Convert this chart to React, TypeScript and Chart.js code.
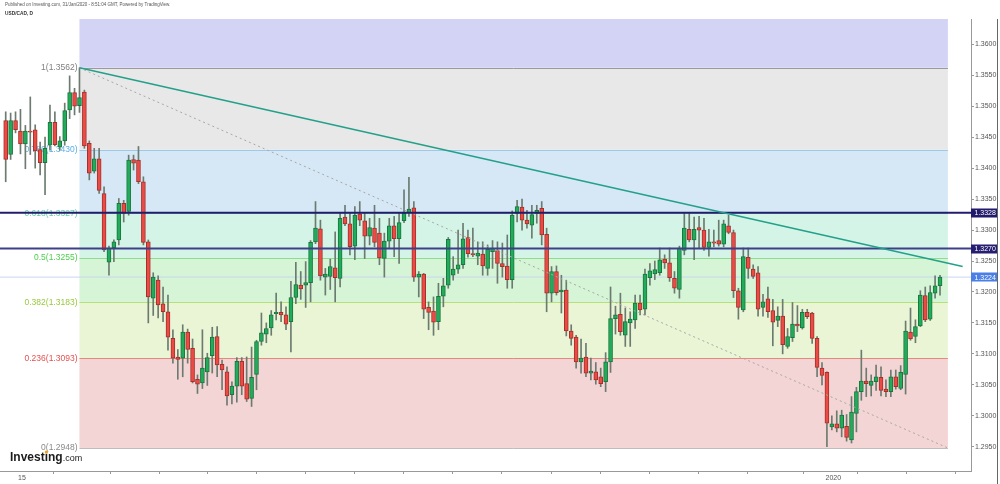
import React, { useEffect, useRef } from 'react';
import { Chart, registerables } from 'chart.js';
Chart.register(...registerables);

// ---- data (USD/CAD daily candles) ----
const opens = [1.3477,1.3422,1.3477,1.3460,1.3439,1.3460,1.3462,1.3430,1.3409,1.3437,1.3474,1.3434,1.3444,1.3494,1.3522,1.3501,1.3523,1.3440,1.3395,1.3415,1.3359,1.3248,1.3271,1.3284,1.3343,1.3330,1.3414,1.3413,1.3378,1.3281,1.3190,1.3219,1.3181,1.3168,1.3125,1.3095,1.3093,1.3135,1.3109,1.3059,1.3053,1.3071,1.3097,1.3128,1.3083,1.3071,1.3034,1.3048,1.3088,1.3052,1.3028,1.3067,1.3120,1.3132,1.3142,1.3165,1.3167,1.3163,1.3152,1.3191,1.3211,1.3211,1.3215,1.3281,1.3302,1.3224,1.3225,1.3239,1.3222,1.3321,1.3310,1.3274,1.3326,1.3315,1.3290,1.3303,1.3295,1.3254,1.3282,1.3307,1.3286,1.3315,1.3328,1.3336,1.3224,1.3229,1.3175,1.3169,1.3152,1.3193,1.3211,1.3227,1.3237,1.3244,1.3288,1.3262,1.3258,1.3261,1.3238,1.3265,1.3267,1.3246,1.3242,1.3220,1.3327,1.3337,1.3316,1.3308,1.3327,1.3335,1.3293,1.3198,1.3233,1.3200,1.3203,1.3137,1.3127,1.3087,1.3095,1.3069,1.3071,1.3063,1.3055,1.3087,1.3157,1.3164,1.3130,1.3150,1.3155,1.3182,1.3172,1.3223,1.3229,1.3231,1.3253,1.3247,1.3222,1.3204,1.3267,1.3301,1.3284,1.3304,1.3300,1.3272,1.3281,1.3283,1.3277,1.3307,1.3296,1.3202,1.3171,1.3256,1.3237,1.3231,1.3175,1.3189,1.3170,1.3154,1.3161,1.3112,1.3126,1.3148,1.3142,1.3167,1.3166,1.3125,1.3077,1.3070,1.2982,1.2987,1.2980,1.2983,1.2961,1.3004,1.3039,1.3056,1.3049,1.3055,1.3062,1.3043,1.3039,1.3063,1.3044,1.3067,1.3135,1.3128,1.3145,1.3194,1.3156,1.3198,1.3210];
const highs = [1.3491,1.3489,1.3491,1.3495,1.3469,1.3515,1.3470,1.3442,1.3450,1.3502,1.3491,1.3451,1.3505,1.3549,1.3529,1.3562,1.3526,1.3444,1.3432,1.3432,1.3370,1.3274,1.3284,1.3351,1.3348,1.3421,1.3421,1.3435,1.3386,1.3284,1.3231,1.3226,1.3208,1.3195,1.3139,1.3107,1.3147,1.3140,1.3124,1.3066,1.3139,1.3101,1.3143,1.3144,1.3090,1.3079,1.3055,1.3094,1.3094,1.3095,1.3111,1.3122,1.3166,1.3150,1.3170,1.3198,1.3184,1.3176,1.3217,1.3248,1.3233,1.3249,1.3283,1.3346,1.3316,1.3238,1.3253,1.3297,1.3327,1.3340,1.3327,1.3338,1.3346,1.3328,1.3319,1.3340,1.3319,1.3295,1.3319,1.3322,1.3327,1.3365,1.3385,1.3346,1.3233,1.3230,1.3184,1.3192,1.3214,1.3222,1.3288,1.3257,1.3300,1.3311,1.3300,1.3303,1.3281,1.3281,1.3276,1.3283,1.3281,1.3279,1.3292,1.3331,1.3348,1.3350,1.3332,1.3340,1.3340,1.3346,1.3303,1.3241,1.3242,1.3227,1.3219,1.3147,1.3130,1.3124,1.3117,1.3093,1.3086,1.3077,1.3102,1.3208,1.3177,1.3198,1.3174,1.3168,1.3195,1.3195,1.3237,1.3246,1.3250,1.3271,1.3260,1.3271,1.3233,1.3274,1.3327,1.3328,1.3321,1.3322,1.3319,1.3301,1.3300,1.3316,1.3316,1.3324,1.3300,1.3206,1.3271,1.3271,1.3244,1.3241,1.3196,1.3208,1.3188,1.3176,1.3188,1.3141,1.3183,1.3178,1.3172,1.3172,1.3167,1.3128,1.3086,1.3071,1.3000,1.3008,1.3009,1.3002,1.3031,1.3046,1.3106,1.3077,1.3066,1.3082,1.3079,1.3058,1.3074,1.3074,1.3081,1.3153,1.3174,1.3155,1.3202,1.3208,1.3210,1.3226,1.3227];
const lows = [1.3378,1.3414,1.3457,1.3423,1.3399,1.3422,1.3400,1.3389,1.3357,1.3429,1.3436,1.3429,1.3437,1.3480,1.3486,1.3490,1.3432,1.3381,1.3392,1.3359,1.3265,1.3227,1.3249,1.3276,1.3313,1.3324,1.3397,1.3375,1.3276,1.3150,1.3162,1.3158,1.3152,1.3106,1.3085,1.3059,1.3063,1.3085,1.3053,1.3036,1.3044,1.3049,1.3069,1.3063,1.3042,1.3017,1.3019,1.3022,1.3034,1.3023,1.3015,1.3042,1.3114,1.3118,1.3130,1.3155,1.3152,1.3139,1.3103,1.3181,1.3188,1.3175,1.3184,1.3278,1.3219,1.3195,1.3204,1.3184,1.3208,1.3307,1.3260,1.3252,1.3307,1.3254,1.3276,1.3273,1.3244,1.3224,1.3271,1.3257,1.3246,1.3312,1.3322,1.3217,1.3192,1.3157,1.3139,1.3130,1.3139,1.3176,1.3206,1.3219,1.3230,1.3238,1.3256,1.3257,1.3244,1.3227,1.3227,1.3238,1.3214,1.3224,1.3206,1.3206,1.3313,1.3300,1.3303,1.3287,1.3311,1.3276,1.3168,1.3184,1.3195,1.3166,1.3129,1.3114,1.3077,1.3069,1.3063,1.3058,1.3051,1.3047,1.3039,1.3070,1.3132,1.3130,1.3112,1.3112,1.3141,1.3163,1.3163,1.3211,1.3220,1.3227,1.3238,1.3217,1.3198,1.3190,1.3260,1.3281,1.3252,1.3271,1.3267,1.3258,1.3273,1.3274,1.3273,1.3294,1.3191,1.3156,1.3168,1.3222,1.3222,1.3161,1.3161,1.3159,1.3113,1.3144,1.3100,1.3109,1.3120,1.3136,1.3140,1.3157,1.3117,1.3063,1.3050,1.2950,1.2977,1.2974,1.2966,1.2959,1.2956,1.2974,1.3025,1.3031,1.3032,1.3041,1.3032,1.3031,1.3031,1.3043,1.3042,1.3035,1.3122,1.3118,1.3144,1.3152,1.3154,1.3190,1.3195];
const closes = [1.3414,1.3477,1.3462,1.3439,1.3460,1.3458,1.3428,1.3409,1.3432,1.3474,1.3438,1.3444,1.3493,1.3522,1.3500,1.3514,1.3436,1.3392,1.3415,1.3364,1.3268,1.3271,1.3281,1.3343,1.3327,1.3413,1.3408,1.3378,1.3280,1.3192,1.3224,1.3179,1.3168,1.3127,1.3093,1.3091,1.3135,1.3107,1.3055,1.3051,1.3077,1.3094,1.3127,1.3082,1.3074,1.3032,1.3048,1.3088,1.3048,1.3027,1.3062,1.3120,1.3134,1.3141,1.3163,1.3167,1.3163,1.3148,1.3191,1.3212,1.3205,1.3215,1.3280,1.3303,1.3226,1.3229,1.3241,1.3223,1.3319,1.3310,1.3273,1.3324,1.3316,1.3290,1.3304,1.3280,1.3255,1.3282,1.3307,1.3286,1.3312,1.3327,1.3334,1.3224,1.3229,1.3172,1.3167,1.3151,1.3193,1.3210,1.3285,1.3237,1.3244,1.3286,1.3262,1.3260,1.3263,1.3242,1.3269,1.3270,1.3246,1.3241,1.3220,1.3324,1.3338,1.3316,1.3310,1.3325,1.3332,1.3292,1.3198,1.3233,1.3199,1.3203,1.3137,1.3125,1.3087,1.3093,1.3069,1.3072,1.3058,1.3052,1.3087,1.3157,1.3163,1.3136,1.3152,1.3156,1.3182,1.3171,1.3229,1.3234,1.3236,1.3252,1.3247,1.3223,1.3206,1.3271,1.3303,1.3284,1.3301,1.3300,1.3272,1.3281,1.3279,1.3277,1.3310,1.3296,1.3202,1.3175,1.3257,1.3238,1.3225,1.3172,1.3184,1.3168,1.3151,1.3161,1.3115,1.3128,1.3148,1.3145,1.3167,1.3160,1.3125,1.3078,1.3065,1.2988,1.2987,1.2980,1.3001,1.2965,1.3006,1.3039,1.3056,1.3052,1.3056,1.3063,1.3041,1.3039,1.3063,1.3047,1.3070,1.3137,1.3124,1.3144,1.3195,1.3155,1.3199,1.3210,1.3224];

// Fibonacci retracement (drawn from the 1.3562 high)
const fibRatios = ['1', '0.786', '0.618', '0.5', '0.382', '0.236', '0'];
const fibPrices = [1.3562, 1.3430, 1.3327, 1.3255, 1.3183, 1.3093, 1.2948];
const fibStartIdx = 15;
const fibEndIdx = 191.6;

// Drawn lines
const trendLine = [{ x: 15, y: 1.3562 }, { x: 194.6, y: 1.3241 }];
const fibDiagonal = [{ x: 15, y: 1.3562 }, { x: 191.6, y: 1.2948 }];
const hLevels = [1.3328, 1.3270];
const lastPrice = 1.3224;

// Axis ticks
const yTickVals = [1.295, 1.3, 1.305, 1.31, 1.315, 1.32, 1.325, 1.33, 1.335, 1.34, 1.345, 1.35, 1.355, 1.36];
const yTickLabels = ['1.2950', '1.3000', '1.3050', '1.3100', '1.3150', '1.3200', '1.3250', '1.3300', '1.3350', '1.3400', '1.3450', '1.3500', '1.3550', '1.3600'];
const xTickIdx = [3.3, 16.3, 26.3, 36.1, 46, 56, 66, 75.9, 85.9, 95.8, 106, 116, 125.9, 135.9, 145.9, 156, 168.3, 178.2, 188.2];
const xTickLabels = ['15', '', '', '', '', '', '', '', '', '', '', '', '', '', '', '', '2020', '', ''];

// ---- styles ----
const FONT = 'Liberation Sans, Arial, sans-serif';
const GREEN = '#22ab5b';
const GREEN_B = '#17773d';
const RED = '#ec4b45';
const RED_B = '#a3302b';
const WICK = '#6c7b70';
const fibAboveColor = 'rgb(211,211,245)';
const fibBandColors = ['rgb(232,232,232)', 'rgb(214,232,245)', 'rgb(212,244,231)', 'rgb(214,244,214)', 'rgb(234,245,214)', 'rgb(244,213,213)'];
const fibLineColors = ['#9a9a9a', '#9fc8e6', '#8fe0be', '#8fdc8f', '#b6e07a', '#e8877c', '#bdbdbd'];
const fibLabelColors = ['#7f7f7f', '#5aaee6', '#5fd3ac', '#4fcf4f', '#98c93a', '#e65050', '#8a8a8a'];

const fibPlugin = {
  id: 'fibBands',
  beforeDatasetsDraw(chart: any) {
    const { ctx, chartArea, scales } = chart;
    const xs = scales.x, ys = scales.y;
    const x0 = xs.getPixelForValue(fibStartIdx);
    const x1 = xs.getPixelForValue(fibEndIdx);
    ctx.save();
    ctx.beginPath();
    ctx.rect(chartArea.left, chartArea.top, chartArea.right - chartArea.left, chartArea.bottom - chartArea.top);
    ctx.clip();
    const yTop = ys.getPixelForValue(fibPrices[0]);
    ctx.fillStyle = fibAboveColor;
    ctx.fillRect(x0, chartArea.top, x1 - x0, yTop - chartArea.top);
    for (let k = 0; k < fibPrices.length - 1; k++) {
      const ya = ys.getPixelForValue(fibPrices[k]);
      const yb = ys.getPixelForValue(fibPrices[k + 1]);
      ctx.fillStyle = fibBandColors[k];
      ctx.fillRect(x0, ya, x1 - x0, yb - ya);
    }
    ctx.lineWidth = 1;
    for (let k = 0; k < fibPrices.length; k++) {
      const yy = Math.round(ys.getPixelForValue(fibPrices[k])) + 0.5;
      ctx.strokeStyle = fibLineColors[k];
      ctx.beginPath();
      ctx.moveTo(x0, yy);
      ctx.lineTo(x1, yy);
      ctx.stroke();
    }
    ctx.font = `8.5px ${FONT}`;
    ctx.textAlign = 'right';
    ctx.textBaseline = 'middle';
    for (let k = 0; k < fibPrices.length; k++) {
      const yy = ys.getPixelForValue(fibPrices[k]);
      ctx.fillStyle = fibLabelColors[k];
      ctx.fillText(`${fibRatios[k]}(${fibPrices[k].toFixed(4)})`, x0 - 2, yy);
    }
    ctx.restore();
  },
};

const overlayPlugin = {
  id: 'overlay',
  afterDraw(chart: any) {
    const { ctx, chartArea, scales } = chart;
    const ys = scales.y;
    ctx.save();
    // right frame line
    ctx.strokeStyle = '#666';
    ctx.lineWidth = 1;
    ctx.beginPath();
    ctx.moveTo(997.5, chartArea.top);
    ctx.lineTo(997.5, 484);
    ctx.stroke();
    // price boxes on the axis
    const boxes = [
      { v: hLevels[0], bg: '#221b6c' },
      { v: hLevels[1], bg: '#261e70' },
      { v: lastPrice, bg: '#4a7fe6' },
    ];
    ctx.font = `7px ${FONT}`;
    ctx.textAlign = 'left';
    ctx.textBaseline = 'middle';
    for (const b of boxes) {
      const yy = ys.getPixelForValue(b.v);
      ctx.fillStyle = b.bg;
      ctx.fillRect(chartArea.right, Math.round(yy) - 4.5, 997 - chartArea.right, 9);
      ctx.fillStyle = '#ffffff';
      ctx.fillText(b.v.toFixed(4), chartArea.right + 3.5, yy + 0.5);
    }
    // header
    ctx.fillStyle = '#555';
    ctx.font = `4.5px ${FONT}`;
    ctx.fillText('Published on Investing.com, 31/Jan/2020 - 8:51:04 GMT, Powered by TradingView.', 5, 5);
    ctx.fillStyle = '#333';
    ctx.font = `bold 4.8px ${FONT}`;
    ctx.fillText('USD/CAD, D', 5, 14);
    // logo
    ctx.textBaseline = 'alphabetic';
    ctx.fillStyle = '#1b1b1b';
    ctx.font = `bold 12px ${FONT}`;
    ctx.fillText('Investing', 10, 461);
    const w = ctx.measureText('Investing').width;
    const wi = ctx.measureText('Invest').width;
    const wdot = ctx.measureText('i').width;
    ctx.font = `9px ${FONT}`;
    ctx.fillText('.com', 10 + w, 461);
    ctx.fillStyle = '#f5a01a';
    ctx.beginPath();
    ctx.arc(10 + wi + wdot / 2, 452, 1.6, 0, Math.PI * 2);
    ctx.fill();
    ctx.restore();
  },
};

export default function App() {
  const ref = useRef<HTMLCanvasElement>(null);
  useEffect(() => {
    const idx = closes.map((_, i) => i);
    const bodyColors = idx.map((i) => (closes[i] >= opens[i] ? GREEN : RED));
    const bodyBorders = idx.map((i) => (closes[i] >= opens[i] ? GREEN_B : RED_B));
    const xMin = -1.16;
    const xMax = 196.3;
    const chart = new Chart(ref.current as HTMLCanvasElement, {
      type: 'bar',
      data: {
        datasets: [
          {
            type: 'line',
            data: [{ x: xMin, y: lastPrice }, { x: xMax, y: lastPrice }],
            borderColor: '#c9d6f3',
            borderWidth: 1,
            pointRadius: 0,
            order: 5,
          } as any,
          {
            type: 'bar',
            data: idx.map((i) => ({ x: i, y: [lows[i], highs[i]] })),
            backgroundColor: WICK,
            borderWidth: 0,
            barThickness: 1,
            grouped: false,
            order: 4,
          } as any,
          {
            type: 'bar',
            data: idx.map((i) => ({ x: i, y: [opens[i], closes[i]] })),
            backgroundColor: bodyColors,
            borderColor: bodyBorders,
            borderWidth: 1,
            borderSkipped: false,
            barThickness: 4,
            grouped: false,
            order: 3,
          } as any,
          {
            type: 'line',
            data: fibDiagonal,
            borderColor: '#a8a8a8',
            borderWidth: 1,
            borderDash: [2, 3],
            pointRadius: 0,
            order: 2,
          } as any,
          ...hLevels.map((v, k) => ({
            type: 'line',
            data: [{ x: xMin, y: v }, { x: xMax, y: v }],
            borderColor: k === 0 ? '#221d6e' : '#3d3f88',
            borderWidth: 2,
            pointRadius: 0,
            order: 1,
          })) as any,
          {
            type: 'line',
            data: trendLine,
            borderColor: '#22a08a',
            borderWidth: 1.5,
            pointRadius: 0,
            order: 0,
          } as any,
        ],
      },
      options: {
        responsive: false,
        animation: false,
        events: [],
        layout: { padding: { top: 19, left: 0, right: 0, bottom: 0 } },
        plugins: { legend: { display: false }, tooltip: { enabled: false } },
        scales: {
          x: {
            type: 'linear',
            min: xMin,
            max: xMax,
            offset: false,
            grid: { drawOnChartArea: false, drawTicks: true, tickLength: 3, color: '#999' },
            border: { display: true, color: '#999' },
            ticks: {
              autoSkip: false,
              maxRotation: 0,
              padding: 0,
              color: '#555',
              font: { size: 7, family: FONT },
              callback: (_v: any, i: number) => xTickLabels[i],
            },
            afterBuildTicks: (axis: any) => {
              axis.ticks = xTickIdx.map((v) => ({ value: v }));
            },
            afterFit: (axis: any) => {
              axis.height = 13;
            },
          },
          y: {
            type: 'linear',
            position: 'right',
            min: 1.29108,
            max: 1.36409,
            grid: { drawOnChartArea: false, drawTicks: true, tickLength: 3, color: '#999' },
            border: { display: true, color: '#999' },
            ticks: {
              padding: 1,
              color: '#555',
              font: { size: 7, family: FONT },
              callback: (_v: any, i: number) => yTickLabels[i],
            },
            afterBuildTicks: (axis: any) => {
              axis.ticks = yTickVals.map((v) => ({ value: v }));
            },
            afterFit: (axis: any) => {
              axis.width = 29;
            },
          },
        },
      } as any,
      plugins: [fibPlugin, overlayPlugin],
    });
    return () => chart.destroy();
  }, []);
  return (
    <div style={{ position: 'absolute', left: 0, top: 0, width: 1000, height: 484, background: '#fff' }}>
      <canvas ref={ref} width={1000} height={484} style={{ display: 'block', width: 1000, height: 484 }} />
    </div>
  );
}
